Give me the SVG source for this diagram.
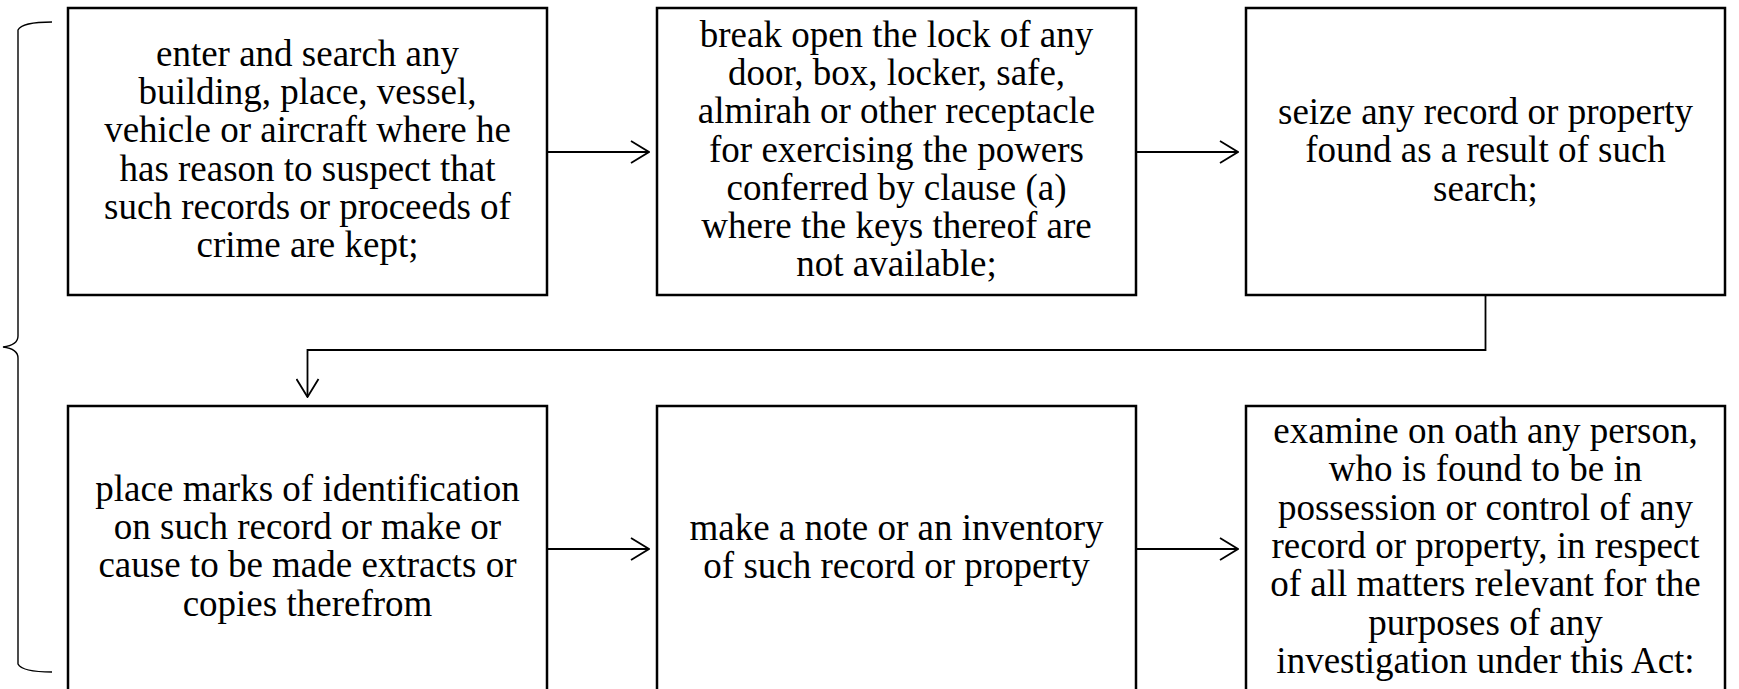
<svg xmlns="http://www.w3.org/2000/svg" width="1739" height="689" viewBox="0 0 1739 689">
<style>
.box{fill:#fff;stroke:#000;stroke-width:2.5}
.lbl{font-family:"Liberation Serif","Times New Roman",serif;font-size:37px;fill:#000;text-anchor:middle}
.conn{fill:none;stroke:#000;stroke-width:1.8}
.brace{fill:none;stroke:#000;stroke-width:1.4}
</style>
<defs>
<marker id="arr" viewBox="0 0 20 24" refX="19" refY="12" markerWidth="20" markerHeight="24" markerUnits="userSpaceOnUse" orient="auto">
<path d="M1,1 L19,12 L1,23" fill="none" stroke="#000" stroke-width="1.8"/>
</marker>
</defs>
<rect width="1739" height="689" fill="#fff"/>
<path class="brace" d="M52,22 Q22,22 18,30 L18,336 Q18,345 3,347 Q18,349 18,358 L18,664 Q22,672 52,672"/>
<g id="n1">
<rect class="box" x="68" y="8" width="479" height="287"/>
<text class="lbl"><tspan x="307.5" y="65.7">enter and search any</tspan><tspan x="307.5" y="104">building, place, vessel,</tspan><tspan x="307.5" y="142.3">vehicle or aircraft where he</tspan><tspan x="307.5" y="180.6">has reason to suspect that</tspan><tspan x="307.5" y="218.9">such records or proceeds of</tspan><tspan x="307.5" y="257.2">crime are kept;</tspan></text>
</g>
<g id="n2">
<rect class="box" x="657" y="8" width="479" height="287"/>
<text class="lbl"><tspan x="896.5" y="46.6">break open the lock of any</tspan><tspan x="896.5" y="84.9">door, box, locker, safe,</tspan><tspan x="896.5" y="123.2">almirah or other receptacle</tspan><tspan x="896.5" y="161.5">for exercising the powers</tspan><tspan x="896.5" y="199.8">conferred by clause (a)</tspan><tspan x="896.5" y="238.1">where the keys thereof are</tspan><tspan x="896.5" y="276.4">not available;</tspan></text>
</g>
<g id="n3">
<rect class="box" x="1246" y="8" width="479" height="287"/>
<text class="lbl"><tspan x="1485.5" y="124">seize any record or property</tspan><tspan x="1485.5" y="162.3">found as a result of such</tspan><tspan x="1485.5" y="200.6">search;</tspan></text>
</g>
<g id="n4">
<rect class="box" x="68" y="406" width="479" height="286"/>
<text class="lbl"><tspan x="307.5" y="500.6">place marks of identification</tspan><tspan x="307.5" y="538.9">on such record or make or</tspan><tspan x="307.5" y="577.2">cause to be made extracts or</tspan><tspan x="307.5" y="615.5">copies therefrom</tspan></text>
</g>
<g id="n5">
<rect class="box" x="657" y="406" width="479" height="286"/>
<text class="lbl"><tspan x="896.5" y="540">make a note or an inventory</tspan><tspan x="896.5" y="578.3">of such record or property</tspan></text>
</g>
<g id="n6">
<rect class="box" x="1246" y="406" width="479" height="286"/>
<text class="lbl"><tspan x="1485.5" y="443">examine on oath any person,</tspan><tspan x="1485.5" y="481.3">who is found to be in</tspan><tspan x="1485.5" y="519.6">possession or control of any</tspan><tspan x="1485.5" y="557.9">record or property, in respect</tspan><tspan x="1485.5" y="596.2">of all matters relevant for the</tspan><tspan x="1485.5" y="634.5">purposes of any</tspan><tspan x="1485.5" y="672.8">investigation under this Act:</tspan></text>
</g>
<g id="connectors">
<path class="conn" d="M547,152 L649,152" marker-end="url(#arr)"/>
<path class="conn" d="M1136,152 L1238,152" marker-end="url(#arr)"/>
<path class="conn" d="M1485.5,295 L1485.5,350 L307.5,350 L307.5,397" marker-end="url(#arr)"/>
<path class="conn" d="M547,549 L649,549" marker-end="url(#arr)"/>
<path class="conn" d="M1136,549 L1238,549" marker-end="url(#arr)"/>
</g>
</svg>
